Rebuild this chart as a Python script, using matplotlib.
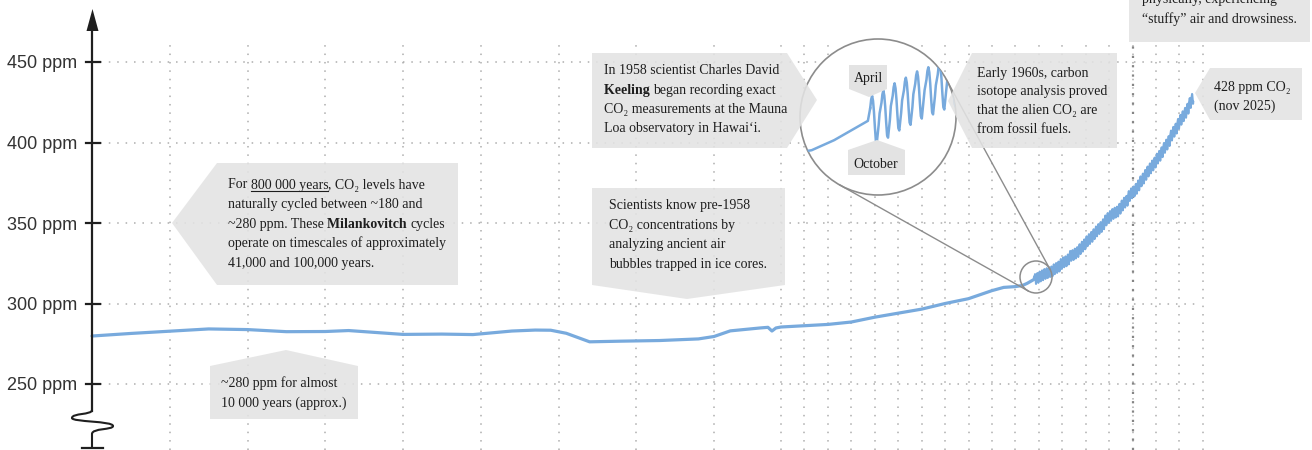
import numpy as np
import matplotlib.pyplot as plt
from matplotlib.patches import Polygon, Circle, Ellipse, PathPatch
from matplotlib.path import Path
from matplotlib.lines import Line2D

W, H = 1312, 450
SERIF = ['Liberation Serif', 'DejaVu Serif']
SANS = ['Liberation Sans', 'DejaVu Sans']
BLUE = '#78aadd'
BOX = '#e3e3e3'
INK = '#1e1e1e'
GRID = '#adadad'
FS = 10

# ice-core reconstruction (year, ppm)
ice_year = [-8000, -7500, -7000, -6500, -6000, -5500, -5000, -4700, -4000, -3500,
            -3100, -2600, -2300, -2100, -1900, -1600, -1200, -700, -200, 0,
            450, 1270, 1490, 1600, 1710, 1850, 1870, 1880, 1890, 1900,
            1910, 1920, 1930, 1940, 1945, 1950, 1953, 1955, 1958]
ice_ppm = [279.8, 281.4, 282.8, 284.2, 283.8, 282.5, 282.6, 283.2, 280.8, 281.0,
           280.7, 282.9, 283.5, 283.4, 281.5, 276.2, 276.6, 277.0, 278.0, 279.5,
           283.0, 284.8, 285.2, 282.9, 284.8, 285.4, 287.0, 288.5, 291.5, 294.0,
           296.5, 300.0, 303.0, 308.0, 310.0, 310.5, 311.2, 312.5, 315.0]

# Mauna Loa annual means and mean seasonal cycle
mlo_year = list(range(1958, 2026))
mlo_mean = [315.3, 315.98, 316.91, 317.64, 318.45, 318.99, 319.62, 320.04, 321.37, 322.18,
            323.05, 324.62, 325.68, 326.32, 327.46, 329.68, 330.19, 331.13, 332.03, 333.84,
            335.41, 336.84, 338.76, 340.12, 341.48, 343.15, 344.87, 346.35, 347.61, 349.31,
            351.69, 353.20, 354.45, 355.70, 356.54, 357.21, 358.96, 360.97, 362.74, 363.88,
            366.84, 368.54, 369.71, 371.32, 373.45, 375.98, 377.70, 379.98, 382.09, 384.02,
            385.83, 387.64, 390.10, 391.85, 394.06, 396.74, 398.81, 401.01, 404.41, 406.76,
            408.72, 411.65, 414.21, 416.41, 418.53, 421.08, 424.61, 427.2]
season = [0.0, 0.65, 1.35, 2.45, 2.95, 2.30, 0.85, -1.15, -2.85, -3.15, -1.95, -0.85]

ppm_ticks = [250, 300, 350, 400, 450]
tick_labels = [f'{v} ppm' for v in ppm_ticks]
grid_years = list(range(-7000, 1, 1000)) + list(range(1850, 2031, 10))

kx, ky = [], []
for yr, mean in zip(mlo_year, mlo_mean):
    for m in range(12):
        if (yr == 1958 and m < 2) or (yr == 2025 and m > 10):
            continue
        kx.append(yr + (m + 0.5) / 12)
        ky.append(mean + season[m])

# broken time axis: 8000 BC..0, 0..1850 squeezed, 1850..now stretched
brk_year = np.array([-9500., -8000., 0., 1850., 2100.])
brk_px = np.array([92 - 1500 * 0.07775, 92., 714., 781., 781 + 250 * 2.344])


def fwd(v):
    return np.interp(v, brk_year, brk_px)


def inv(v):
    return np.interp(v, brk_px, brk_year)


def ppm_at(ypx):
    return 250 + (384 - ypx) / 1.61


def fp(x, y):
    return x / W, 1 - y / H


fig = plt.figure(figsize=(W / 100, H / 100), dpi=100)
ax = fig.add_axes([0, 0, 1, 1])
ax.set_xscale('function', functions=(fwd, inv))
ax.set_xlim(inv(0), inv(W))
ax.set_ylim(ppm_at(H), ppm_at(0))
ax.axis('off')

ax.vlines(grid_years, ppm_at(H), ppm_at(43), colors=GRID, lw=1.1,
          linestyles=[(0, (1, 4.5))])
ax.vlines([2000], ppm_at(H), ppm_at(43), colors='#858585', lw=1.6,
          linestyles=[(0, (1, 3.2))])
ax.hlines(ppm_ticks, -8000, 2028, colors=GRID, lw=1.1, linestyles=[(0, (1, 4.5))])

ax.plot(ice_year + [kx[0]], ice_ppm + [ky[0]], color=BLUE, lw=2.3,
        solid_capstyle='round', solid_joinstyle='round')
ax.plot(kx, ky, color=BLUE, lw=1.5)

# magnifier
cx1, cy1, r1 = 878, 117, 78
cx2, cy2, r2 = 1036, 277, 16
d = np.hypot(cx2 - cx1, cy2 - cy1)
th = np.arctan2(cy2 - cy1, cx2 - cx1)
al = np.arccos((r1 - r2) / d)
for s in (1, -1):
    ph = th + s * al
    xs = [cx1 + r1 * np.cos(ph), cx2 + r2 * np.cos(ph)]
    ys = [cy1 + r1 * np.sin(ph), cy2 + r2 * np.sin(ph)]
    fig.add_artist(Line2D([x / W for x in xs], [1 - y / H for y in ys],
                          transform=fig.transFigure, color='#8c8c8c', lw=1.0, zorder=0.9))
fig.add_artist(Ellipse(fp(cx2, cy2), 2 * r2 / W, 2 * r2 / H, transform=fig.transFigure,
                       fc='none', ec='#8c8c8c', lw=1.1, zorder=0.9))

ax_in = fig.add_axes([(cx1 - r1) / W, 1 - (cy1 + r1) / H, 2 * r1 / W, 2 * r1 / H])
ax_in.axis('off')
yc, pc, mag = 1958.9, 315.5, 4.8
ax_in.set_xlim(yc - r1 / (2.344 * mag), yc + r1 / (2.344 * mag))
ax_in.set_ylim(pc - r1 / (1.61 * mag), pc + r1 / (1.61 * mag))
disc = Circle((0.5, 0.5), 0.5, transform=ax_in.transAxes, fc='white', ec='#8c8c8c',
              lw=1.2, zorder=0, clip_on=False)
ax_in.add_patch(disc)
clip = Circle((0.5, 0.5), 0.5, transform=ax_in.transAxes)
l1, = ax_in.plot(ice_year + [kx[0]], ice_ppm + [ky[0]], color=BLUE, lw=1.8)
l2, = ax_in.plot(kx, ky, color=BLUE, lw=1.8)
l1.set_clip_path(clip)
l2.set_clip_path(clip)


def box(pts, alpha=0.88):
    fig.add_artist(Polygon([fp(x, y) for x, y in pts], closed=True, transform=fig.transFigure,
                           fc=BOX, ec='none', alpha=alpha, zorder=1))


box([(172, 223), (217, 163), (458, 163), (458, 285), (217, 285)])
box([(210, 366), (286, 350), (358, 366), (358, 419), (210, 419)])
box([(592, 188), (785, 188), (785, 285), (687, 299), (592, 285)])
box([(592, 53), (787, 53), (817, 100), (787, 148), (592, 148)])
box([(948, 101), (972, 53), (1117, 53), (1117, 148), (972, 148)])
box([(1195, 93), (1210, 68), (1302, 68), (1302, 120), (1210, 120)])
box([(1129, -5), (1310, -5), (1310, 42), (1129, 42)])
box([(849, 65), (887, 65), (887, 89), (869, 97), (849, 89)], alpha=1)
box([(848, 150), (877, 140), (905, 150), (905, 175), (848, 175)], alpha=1)

renderer = fig.canvas.get_renderer()


def ink(s, weight):
    t = fig.text(0, 0, s, fontsize=FS, family=SERIF, fontweight=weight)
    w = t.get_window_extent(renderer).width
    t.remove()
    return w


def width(s, weight):
    return ink('|' + s + '|', weight) - ink('||', weight)


def write(x, y, lines, step=19.5):
    # each part: (text, style); 'b' bold, 'u' underline; spaces trail the previous part
    for i, line in enumerate(lines):
        if isinstance(line, str):
            line = [(line, '')]
        px = x
        base = y + i * step + 4.5
        for txt, style in line:
            weight = 'bold' if 'b' in style else 'normal'
            fig.text(px / W, 1 - base / H, txt, fontsize=FS, family=SERIF, fontweight=weight,
                     color=INK, ha='left', va='baseline')
            w = width(txt, weight)
            if 'u' in style:
                fig.add_artist(Line2D([px / W, (px + w) / W], [1 - (base + 2.5) / H] * 2,
                                      transform=fig.transFigure, color=INK, lw=0.8))
            px += w


write(228, 184, [[('For ', ''), ('800 000 years', 'u'), (', CO₂ levels have', '')],
                 'naturally cycled between ~180 and',
                 [('~280 ppm. These ', ''), ('Milankovitch ', 'b'), ('cycles', '')],
                 'operate on timescales of approximately',
                 '41,000 and 100,000 years.'], step=19.6)
write(221, 382, ['~280 ppm for almost', '10 000 years (approx.)'], step=20.5)
write(609, 205, ['Scientists know pre-1958', 'CO₂ concentrations by',
                 'analyzing ancient air', 'bubbles trapped in ice cores.'])
write(604, 70, ['In 1958 scientist Charles David',
                [('Keeling ', 'b'), ('began recording exact', '')],
                'CO₂ measurements at the Mauna', 'Loa observatory in Hawaiʻi.'], step=19.1)
write(977, 72, ['Early 1960s, carbon', 'isotope analysis proved',
                'that the alien CO₂ are', 'from fossil fuels.'], step=18.9)
write(1214, 87, ['428 ppm CO₂', '(nov 2025)'], step=18.3)
write(1142, -1, ['physically, experiencing', '“stuffy” air and drowsiness.'], step=19)

fig.text(*fp(868, 82), 'April', fontsize=FS, family=SERIF, color=INK, ha='center', va='baseline')
fig.text(*fp(876, 168), 'October', fontsize=FS, family=SERIF, color=INK, ha='center', va='baseline')

# y axis with arrow, ticks and break
AX = '#1f1f1f'
fig.add_artist(Line2D(*zip(fp(92, 28), fp(92, 411)), transform=fig.transFigure,
                      color=AX, lw=1.6, zorder=2))
fig.add_artist(Polygon([fp(92.5, 9), fp(86.5, 31), fp(98.5, 31)], transform=fig.transFigure,
                       fc=AX, ec='none', zorder=2))
for v, lab in zip(ppm_ticks, tick_labels):
    ty = 384 - (v - 250) * 1.61
    fig.add_artist(Line2D(*zip(fp(86, ty), fp(100, ty)), transform=fig.transFigure,
                          color=AX, lw=1.6, zorder=2))
    fig.text(*fp(77, ty + 2), lab, fontsize=13, family=SANS, color='#333333',
             ha='right', va='center')
verts = [(92, 410), (92, 415), (72, 413), (72, 418), (72, 422), (113, 421), (113, 426),
         (113, 430), (92, 428), (92, 434), (92, 448)]
codes = [Path.MOVETO] + [Path.CURVE4] * 9 + [Path.LINETO]
fig.add_artist(PathPatch(Path([fp(x, y) for x, y in verts], codes), transform=fig.transFigure,
                         fc='none', ec=AX, lw=1.5, zorder=2))
fig.add_artist(Line2D(*zip(fp(82, 448), fp(103, 448)), transform=fig.transFigure,
                      color=AX, lw=1.6, zorder=2))

fig.savefig('out.png', dpi=100)
